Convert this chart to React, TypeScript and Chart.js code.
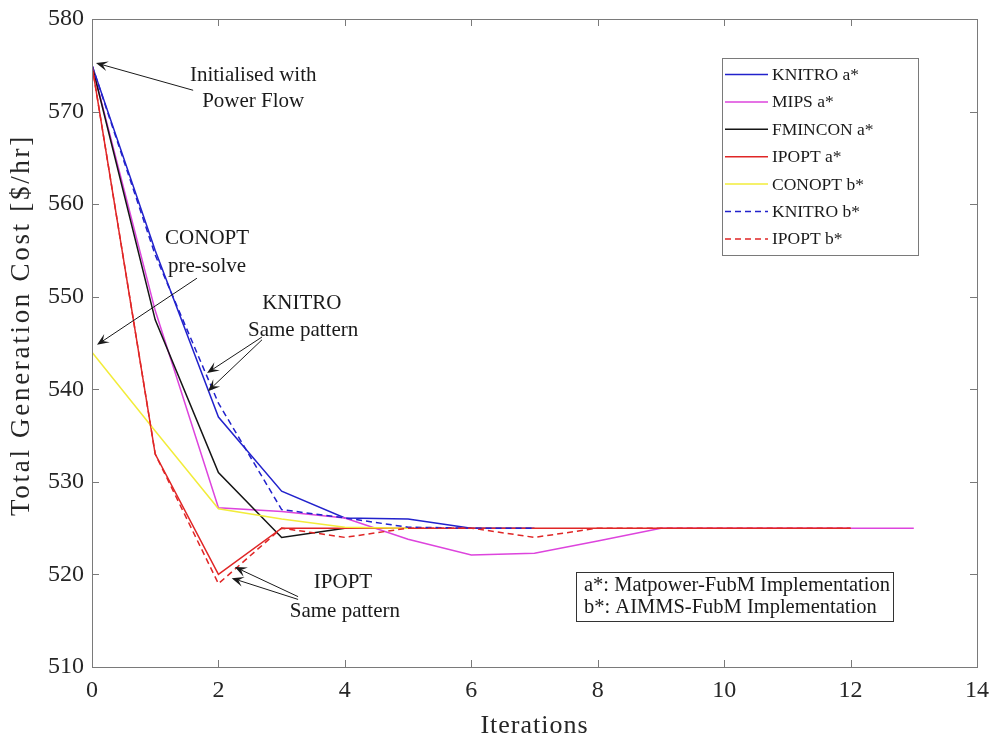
import React, { useEffect, useRef } from 'react';
import { Chart, registerables } from 'chart.js';

Chart.register(...registerables);

// ---- data ----
const xTicks = [0, 2, 4, 6, 8, 10, 12, 14];
const yTicks = [510, 520, 530, 540, 550, 560, 570, 580];

// values per iteration, starting at iteration 0
const knitroA = [575, 555, 537, 529, 526.1, 526, 525, 525];
const mipsA = [575, 548.5, 527.2, 526.8, 526.1, 523.8, 522.1, 522.3, 523.6, 525, 525, 525, 525, 525];
const fminconA = [575, 547.5, 531, 524, 525];
const ipoptA = [575, 533, 520, 525, 525, 525, 525, 525, 525, 525, 525, 525, 525];
const conoptB = [544, 535.5, 527.1, 526, 525.1, 525];
const knitroB = [575, 554.5, 538.5, 527, 526.1, 525.1, 525, 525];
const ipoptB = [575, 533, 519, 525, 524, 525, 525, 524, 525, 525, 525, 525, 525];

const seriesNames = ['KNITRO a*', 'MIPS a*', 'FMINCON a*', 'IPOPT a*', 'CONOPT b*', 'KNITRO b*', 'IPOPT b*'];
const seriesValues = [knitroA, mipsA, fminconA, ipoptA, conoptB, knitroB, ipoptB];
const seriesColors = ['#2222cc', '#dd44dd', '#151515', '#e02626', '#f2ec3a', '#2222cc', '#e02626'];
const seriesDashed = [false, false, false, false, false, true, true];

const xTitle = 'Iterations';
const yTitle = 'Total Generation Cost [$/hr]';
const noteLines = ['a*: Matpower-FubM Implementation', 'b*: AIMMS-FubM Implementation'];

// annotations: text lines (data coords of centre), arrows (tail -> tip in data coords)
const annotationTexts = [
  { text: 'Initialised with', x: 2.55, y: 573.95 },
  { text: 'Power Flow', x: 2.55, y: 571.05 },
  { text: 'CONOPT', x: 1.82, y: 556.3 },
  { text: 'pre-solve', x: 1.82, y: 553.3 },
  { text: 'KNITRO', x: 3.32, y: 549.3 },
  { text: 'Same pattern', x: 3.34, y: 546.4 },
  { text: 'IPOPT', x: 3.97, y: 519.1 },
  { text: 'Same pattern', x: 4.0, y: 516.05 },
];
const annotationArrows = [
  { x1: 1.6, y1: 572.3, x2: 0.063, y2: 575.25 },
  { x1: 1.66, y1: 552.0, x2: 0.079, y2: 544.8 },
  { x1: 2.69, y1: 545.65, x2: 1.82, y2: 541.76 },
  { x1: 2.69, y1: 545.35, x2: 1.835, y2: 539.8 },
  { x1: 3.26, y1: 517.6, x2: 2.26, y2: 520.8 },
  { x1: 3.26, y1: 517.3, x2: 2.21, y2: 519.6 },
];

const SERIF = '"Liberation Serif", "DejaVu Serif", serif';
const TEXT = '#262626';
const AXIS = '#7a7a7a';

function drawArrow(ctx: CanvasRenderingContext2D, x1: number, y1: number, x2: number, y2: number) {
  const a = Math.atan2(y2 - y1, x2 - x1);
  const c = Math.cos(a), s = Math.sin(a);
  const L = 12, W = 5, N = 7;
  ctx.beginPath();
  ctx.moveTo(x1, y1);
  ctx.lineTo(x2 - N * c, y2 - N * s);
  ctx.stroke();
  ctx.beginPath();
  ctx.moveTo(x2, y2);
  ctx.lineTo(x2 - L * c + W * s, y2 - L * s - W * c);
  ctx.lineTo(x2 - N * c, y2 - N * s);
  ctx.lineTo(x2 - L * c - W * s, y2 - L * s + W * c);
  ctx.closePath();
  ctx.fill();
}

const zeroPad = (s: any) => {
  s.paddingLeft = 0;
  s.paddingRight = 0;
  s.paddingTop = 0;
  s.paddingBottom = 0;
};

const overlayPlugin = {
  id: 'overlay',
  afterDatasetsDraw(chart: any) {
    const { ctx, chartArea: ca, scales } = chart;
    const xs = scales.x, ys = scales.y;
    ctx.save();
    // frame
    ctx.strokeStyle = AXIS;
    ctx.lineWidth = 1;
    ctx.strokeRect(Math.round(ca.left) + 0.5, Math.round(ca.top) + 0.5, Math.round(ca.right - ca.left), Math.round(ca.bottom - ca.top));
    // inward ticks
    const tl = 7;
    ctx.beginPath();
    xTicks.forEach((t) => {
      const px = Math.round(xs.getPixelForValue(t)) + 0.5;
      ctx.moveTo(px, ca.bottom); ctx.lineTo(px, ca.bottom - tl);
      ctx.moveTo(px, ca.top); ctx.lineTo(px, ca.top + tl);
    });
    yTicks.forEach((t) => {
      const py = Math.round(ys.getPixelForValue(t)) + 0.5;
      ctx.moveTo(ca.left, py); ctx.lineTo(ca.left + tl, py);
      ctx.moveTo(ca.right, py); ctx.lineTo(ca.right - tl, py);
    });
    ctx.stroke();

    // axis titles
    ctx.fillStyle = TEXT;
    ctx.textAlign = 'center';
    ctx.textBaseline = 'middle';
    (ctx as any).letterSpacing = '1px';
    ctx.font = `26px ${SERIF}`;
    ctx.fillText(xTitle, (ca.left + ca.right) / 2, ca.bottom + 59);
    ctx.save();
    (ctx as any).letterSpacing = '2.7px';
    ctx.font = `27px ${SERIF}`;
    ctx.translate(22, (ca.top + ca.bottom) / 2 - 18);
    ctx.rotate(-Math.PI / 2);
    ctx.fillText(yTitle, 0, 0);
    ctx.restore();
    (ctx as any).letterSpacing = '0px';

    // annotations
    ctx.fillStyle = '#1a1a1a';
    ctx.strokeStyle = '#1a1a1a';
    ctx.font = `21px ${SERIF}`;
    ctx.textAlign = 'center';
    ctx.textBaseline = 'middle';
    annotationTexts.forEach((t) => {
      ctx.fillText(t.text, xs.getPixelForValue(t.x), ys.getPixelForValue(t.y));
    });
    ctx.lineWidth = 1;
    annotationArrows.forEach((a) => {
      drawArrow(ctx, xs.getPixelForValue(a.x1), ys.getPixelForValue(a.y1), xs.getPixelForValue(a.x2), ys.getPixelForValue(a.y2));
    });

    // legend box
    const lx = ca.right - 255, ly = ca.top + 39, lw = 196, lh = 197;
    ctx.fillStyle = '#fff';
    ctx.fillRect(lx, ly, lw, lh);
    ctx.strokeStyle = AXIS;
    ctx.lineWidth = 1;
    ctx.strokeRect(Math.round(lx) + 0.5, Math.round(ly) + 0.5, lw, lh);
    ctx.font = `17.5px ${SERIF}`;
    ctx.textAlign = 'left';
    ctx.textBaseline = 'middle';
    seriesNames.forEach((name, i) => {
      const y = ly + 16.5 + i * 27.4;
      ctx.strokeStyle = seriesColors[i];
      ctx.lineWidth = 1.5;
      ctx.setLineDash(seriesDashed[i] ? [6, 4] : []);
      ctx.beginPath();
      ctx.moveTo(lx + 3, y); ctx.lineTo(lx + 46, y);
      ctx.stroke();
      ctx.setLineDash([]);
      ctx.fillStyle = '#1a1a1a';
      ctx.fillText(name, lx + 50, y + 1);
    });

    // note box
    const nx = ca.left + 484, ny = ca.bottom - 95, nw = 317, nh = 49;
    ctx.fillStyle = '#fff';
    ctx.fillRect(nx, ny, nw, nh);
    ctx.strokeStyle = '#333';
    ctx.lineWidth = 1;
    ctx.strokeRect(Math.round(nx) + 0.5, Math.round(ny) + 0.5, nw, nh);
    ctx.fillStyle = '#1a1a1a';
    ctx.font = `20.5px ${SERIF}`;
    noteLines.forEach((l, i) => {
      ctx.fillText(l, nx + 8, ny + 14 + i * 22);
    });
    ctx.restore();
  },
};

export default function App() {
  const ref = useRef<HTMLCanvasElement | null>(null);
  useEffect(() => {
    document.body.style.margin = '0';
    const canvas = ref.current;
    if (!canvas) return;
    const datasets = seriesValues.map((vals, i) => ({
      label: seriesNames[i],
      data: vals.map((v, k) => ({ x: k, y: v })),
      borderColor: seriesColors[i],
      backgroundColor: seriesColors[i],
      borderWidth: 1.5,
      borderDash: seriesDashed[i] ? [6, 4] : [],
      pointRadius: 0,
      tension: 0,
      fill: false,
      order: seriesNames.length - i,
    }));
    const chart = new Chart(canvas, {
      type: 'line',
      data: { datasets },
      options: {
        animation: false,
        responsive: false,
        maintainAspectRatio: false,
        layout: { padding: { top: 19, right: 16, left: 0, bottom: 0 } },
        plugins: { legend: { display: false }, tooltip: { enabled: false } },
        scales: {
          x: {
            type: 'linear',
            min: 0,
            max: 14,
            afterBuildTicks: (s: any) => { s.ticks = xTicks.map((v) => ({ value: v })); },
            afterFit: (s: any) => { s.height = 73; zeroPad(s); },
            grid: { display: false, drawTicks: false },
            border: { display: false },
            ticks: { color: TEXT, font: { family: SERIF, size: 24 }, padding: 9, maxRotation: 0 },
            title: { display: false },
          },
          y: {
            type: 'linear',
            min: 510,
            max: 580,
            afterBuildTicks: (s: any) => { s.ticks = yTicks.map((v) => ({ value: v })); },
            afterFit: (s: any) => { s.width = 92; zeroPad(s); },
            grid: { display: false, drawTicks: false },
            border: { display: false },
            ticks: { color: TEXT, font: { family: SERIF, size: 24 }, padding: 8 },
            title: { display: false },
          },
        },
      },
      plugins: [overlayPlugin],
    });
    return () => chart.destroy();
  }, []);
  return (
    <div style={{ width: 993, height: 740 }}>
      <canvas ref={ref} width={993} height={740} style={{ display: 'block' }} />
    </div>
  );
}
